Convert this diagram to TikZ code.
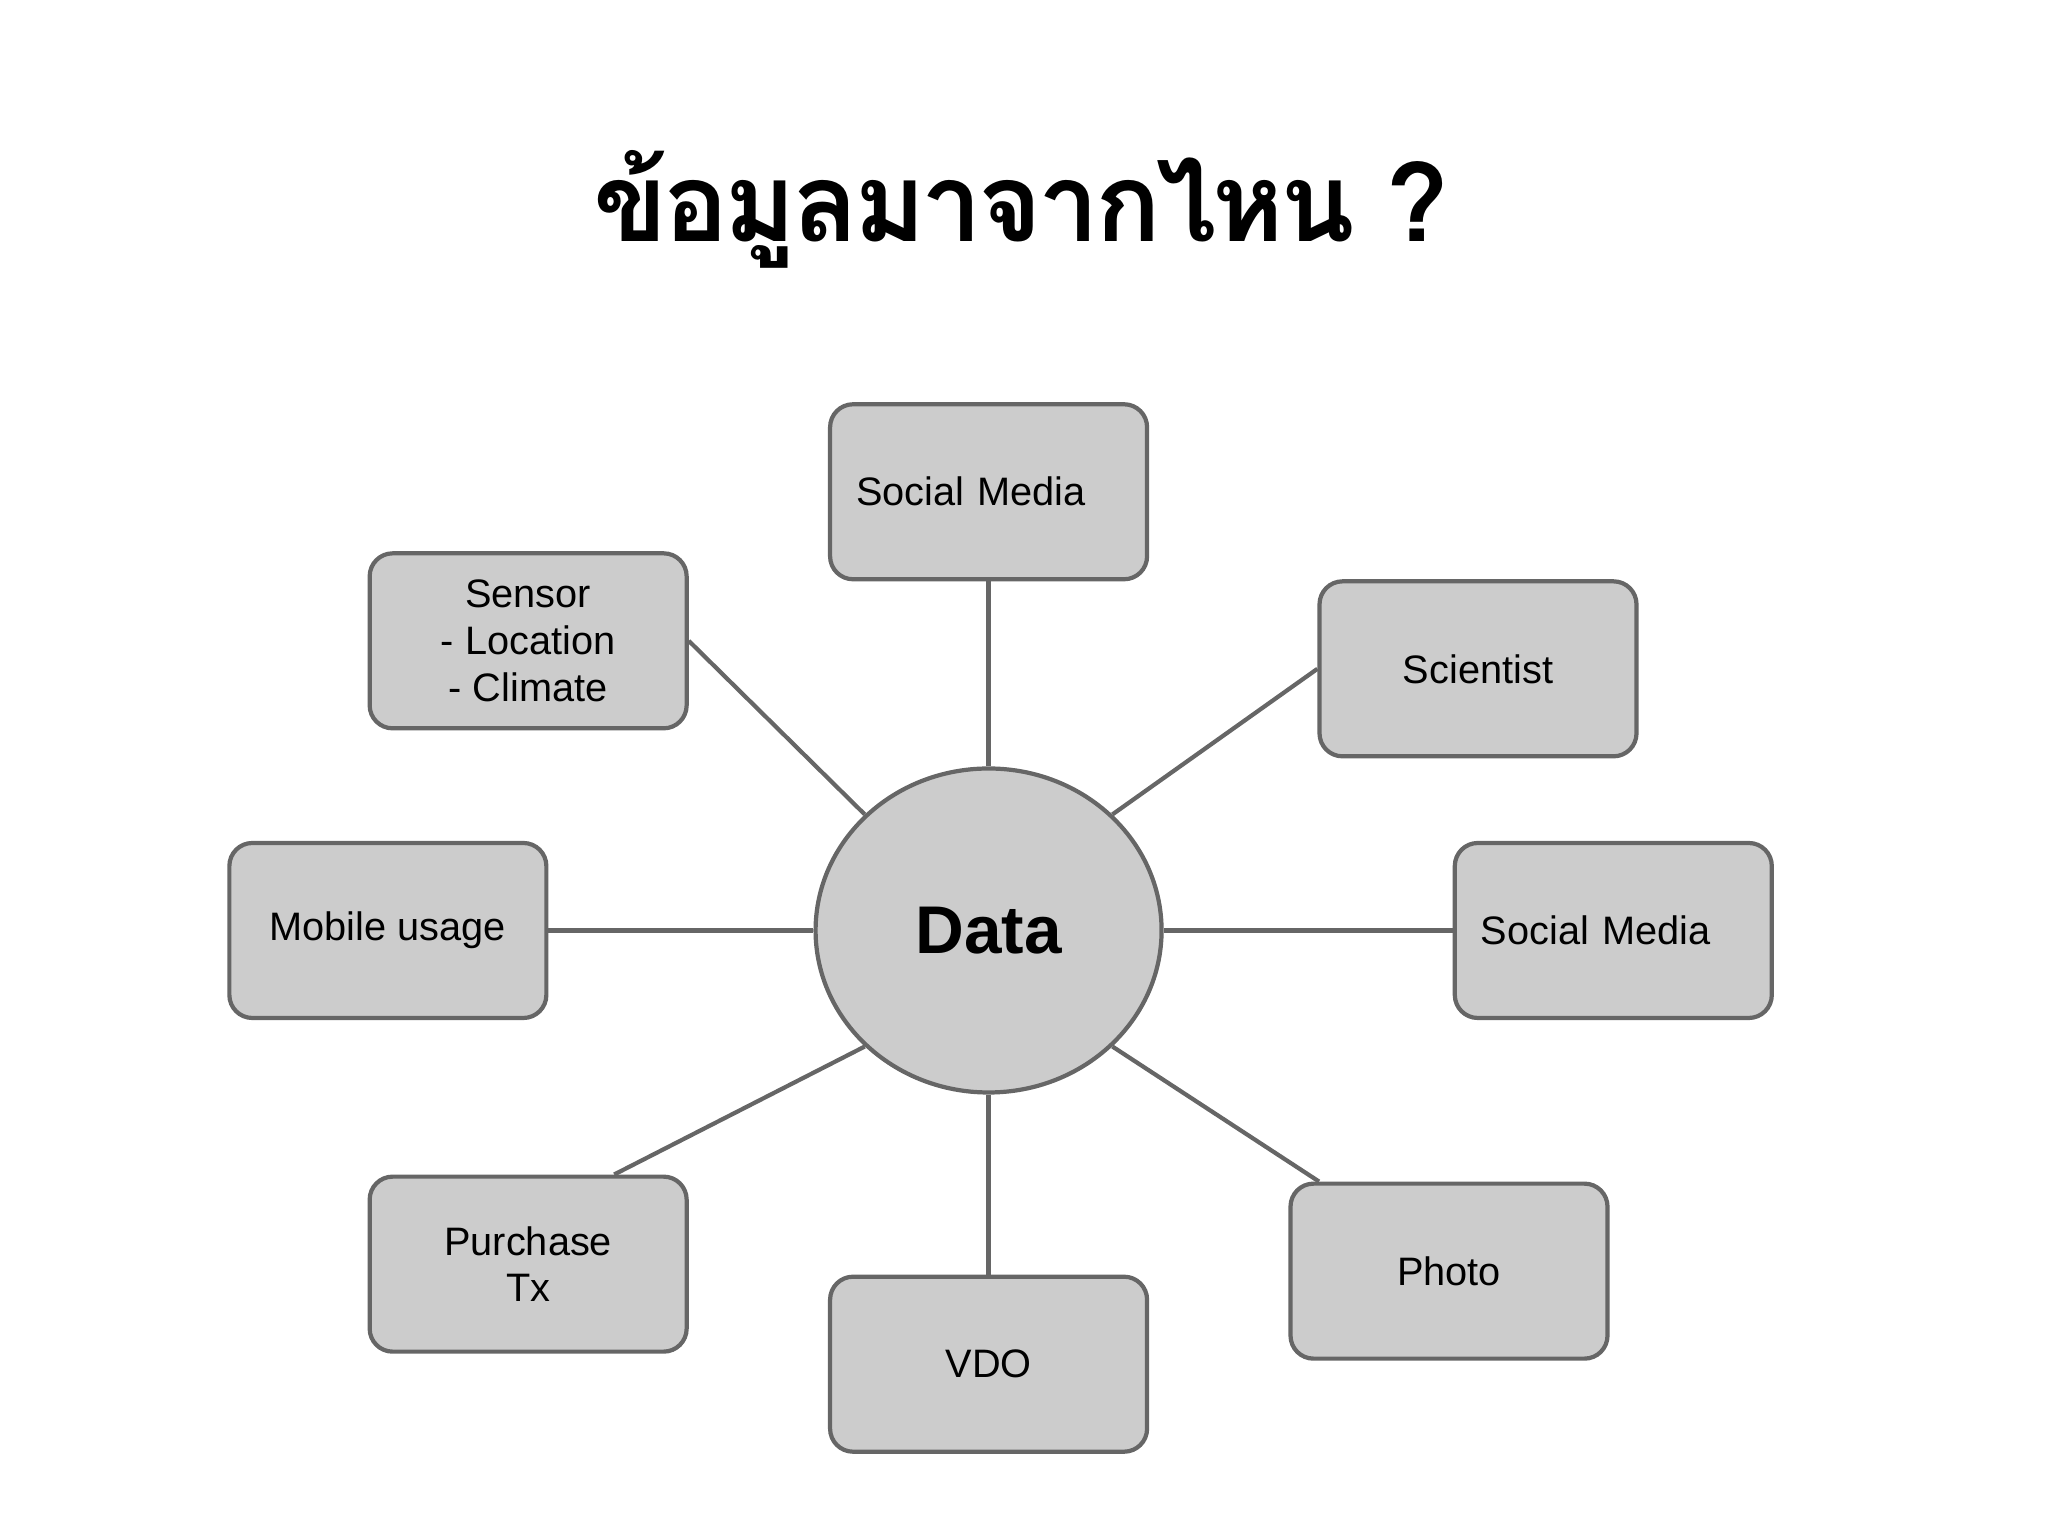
\documentclass[tikz,border=0pt]{standalone}
\usepackage{fontspec}
\setmainfont{Liberation Sans}
\newfontfamily\thaifont[Script=Thai,LetterSpace=-4]{Loma}
\usepackage{tikz}
\usetikzlibrary{positioning,shapes.geometric}
\definecolor{boxfill}{HTML}{CCCCCC}
\definecolor{boxline}{HTML}{666666}

\begin{document}
\begin{tikzpicture}[line width=1.2pt, font=\fontsize{11.3}{13.3}\selectfont]
\tikzstyle{srcbox}=[draw=boxline, fill=boxfill, rounded corners=0.23cm, minimum width=3.17cm, minimum height=1.75cm, align=center]
\tikzstyle{smbox}=[srcbox, text width=2.65cm, inner xsep=0.26cm, align=left]
\useasboundingbox (-9.886,-6.055) rectangle (10.594,9.305);

\node[anchor=base, font=\thaifont\fontsize{31}{37}\selectfont\bfseries] (title) at (0.32,6.89) {ข้อมูลมาจากไหน ?};

\node[ellipse, draw=boxline, fill=boxfill, minimum width=3.46cm, minimum height=3.24cm, font=\fontsize{19.2}{23}\selectfont\bfseries] (data) at (0,0) {Data};

\node[smbox]  (smtop)     [above=1.85cm of data] {Social Media};
\node[srcbox] (vdo)       [below=1.80cm of data] {VDO};
\node[srcbox] (mobile)    [left=2.65cm of data]  {Mobile usage};
\node[smbox]  (smright)   [right=2.89cm of data] {Social Media};
\node[srcbox] (sensor)    [above left=0.84cm and 1.76cm of data]  {Sensor\\- Location\\- Climate};
\node[srcbox] (scientist) [above right=0.56cm and 2.05cm of data] {Scientist};
\node[srcbox] (purchase)  [below left=1.28cm and 1.76cm of data]  {Purchase\\Tx};
\node[srcbox] (photo)     [below right=1.35cm and 1.76cm of data] {Photo};

\coordinate (purchasetop) at ([xshift=0.86cm]purchase.north);
\coordinate (phototop) at ([xshift=-1.30cm]photo.north);

\foreach \s/\d in {smtop.south/north, sensor.east/north west, scientist.west/north east,
                   mobile.east/west, smright.west/east, purchasetop/south west,
                   vdo.north/south, phototop/south east}
{\draw[boxline] (\s) -- (data.\d);}
\end{tikzpicture}
\end{document}
